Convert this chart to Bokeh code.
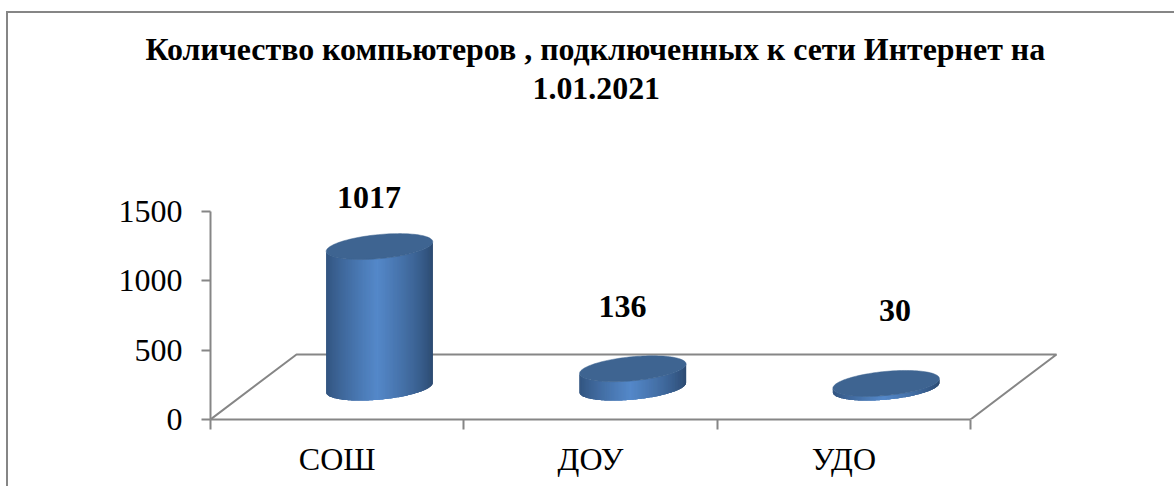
import numpy as np
from bokeh.plotting import figure
from bokeh.models import FixedTicker, Range1d, Title
from bokeh.core.properties import value as bvalue
from bokeh.embed import file_html
from bokeh.resources import INLINE

categories = ["СОШ", "ДОУ", "УДО"]
values = [1017, 136, 30]
y_ticks = [0, 500, 1000, 1500]
title_lines = ["Количество компьютеров , подключенных к сети Интернет на", "1.01.2021"]

GRAY = "#868686"
SERIF = "Liberation Serif"
L, B, W, H = 210, 419, 1174, 486
UX = 253.33          # pixels per category
UY = 208 / 1500      # pixels per value unit
TOP = 108

label_x = [0.626, 1.626, 2.702]
label_y = [1601, 815, 786]
BAR_X = 0.667
BASE = 230
DEPTH_X, DEPTH_Y = 0.3395, 469

frame_css = ("linear-gradient(#868686,#868686) 6px 11px / 2px 100% no-repeat, "
             "linear-gradient(#868686,#868686) 6px 11px / 100% 2px no-repeat")

p = figure(width=W, height=H, output_backend="svg", toolbar_location=None,
           x_range=Range1d(0, (W - L) / UX), y_range=Range1d(0, (B - TOP) / UY),
           min_border_left=L, min_border_right=0, min_border_bottom=H - B, min_border_top=TOP,
           background_fill_color=None, border_fill_color=None,
           styles={"position": "absolute", "left": "0px", "top": "0px", "background": frame_css})
p.outline_line_color = None
p.grid.visible = False

p.xaxis.ticker = FixedTicker(ticks=[i + 0.5 for i in range(3)], minor_ticks=list(range(4)))
p.xaxis.major_label_overrides = {i + 0.5: c for i, c in enumerate(categories)}
p.xaxis.bounds = (0, 3)
p.xaxis.major_tick_line_color = None
p.xaxis.minor_tick_line_color = GRAY
p.xaxis.minor_tick_line_width = 2
p.xaxis.minor_tick_out = 10
p.xaxis.minor_tick_in = 0
p.xaxis.axis_line_color = GRAY
p.xaxis.axis_line_width = 2
p.xaxis.major_label_text_font = SERIF
p.xaxis.major_label_text_font_size = "32px"
p.xaxis.major_label_text_color = "black"
p.xaxis.major_label_standoff = 11

p.yaxis.ticker = FixedTicker(ticks=y_ticks)
p.yaxis.bounds = (0, 1500)
p.yaxis.minor_tick_line_color = None
p.yaxis.major_tick_line_color = GRAY
p.yaxis.major_tick_line_width = 2
p.yaxis.major_tick_out = 9
p.yaxis.major_tick_in = 0
p.yaxis.axis_line_color = GRAY
p.yaxis.axis_line_width = 2
p.yaxis.major_label_text_font = SERIF
p.yaxis.major_label_text_font_size = "32px"
p.yaxis.major_label_text_color = "black"
p.yaxis.major_label_standoff = 19

# floor
p.line([0, DEPTH_X, 3 + DEPTH_X, 3], [0, DEPTH_Y, DEPTH_Y, 0], line_color=GRAY, line_width=2)

# cylinders
a, b = 53.5, 12.0
th = np.radians(5.4)
t0 = np.arctan2(-b * np.sin(th), a * np.cos(th))   # right extreme on the lower side
ts = np.linspace(t0, t0 - np.pi, 121)[::-1]        # left to right
ex = (a * np.cos(ts) * np.cos(th) - b * np.sin(ts) * np.sin(th)) / UX
ey = (a * np.cos(ts) * np.sin(th) + b * np.sin(ts) * np.cos(th)) / UY
full = np.linspace(0, 2 * np.pi, 121)
cx_ = (a * np.cos(full) * np.cos(th) - b * np.sin(full) * np.sin(th)) / UX
cy_ = (a * np.cos(full) * np.sin(th) + b * np.sin(full) * np.cos(th)) / UY
x_min, x_max = ex.min(), ex.max()

def shade(f):
    dark = np.array([0x2b, 0x49, 0x6f])
    lit = np.array([0x54, 0x88, 0xc9])
    k = np.clip(1 - np.abs(f - 0.47) / 0.53, 0, 1) ** 0.75
    c = dark + (lit - dark) * k
    return "#%02x%02x%02x" % tuple(int(round(v)) for v in c)

for i, v in enumerate(values):
    xc = i + BAR_X
    xs, ys, cols = [], [], []
    n = len(ts)
    for k in range(n - 1):
        j = min(k + 3, n - 1)   # strips overlap the next ones, which paint over the seam
        idx = np.arange(k, j + 1)
        xs.append(np.concatenate([xc + ex[idx], (xc + ex[idx])[::-1]]).tolist())
        ys.append(np.concatenate([BASE + v + ey[idx], (BASE + ey[idx])[::-1]]).tolist())
        cols.append(shade((ex[k] - x_min) / (x_max - x_min)))
    p.patches(xs, ys, fill_color=cols, line_color=None)
    p.patch(xc + cx_, BASE + v + cy_, fill_color="#3e6491", line_color="#3e6491", line_width=0.5)

p.text(label_x, label_y, text=[str(v) for v in values], text_font=bvalue(SERIF), text_font_style="bold",
       text_font_size="32px", text_color="black", text_align="center", text_baseline="middle")

t2 = Title(text=title_lines[1], align="left", offset=532 - L, text_font=SERIF, text_font_style="bold",
           text_font_size="31.9px", text_color="black", standoff=20)
t1 = Title(text=title_lines[0], align="left", offset=145 - L, text_font=SERIF, text_font_style="bold",
           text_font_size="31.9px", text_color="black", standoff=-2)
p.add_layout(t2, "above")
p.add_layout(t1, "above")

open("out.html", "w").write(file_html(p, INLINE))
